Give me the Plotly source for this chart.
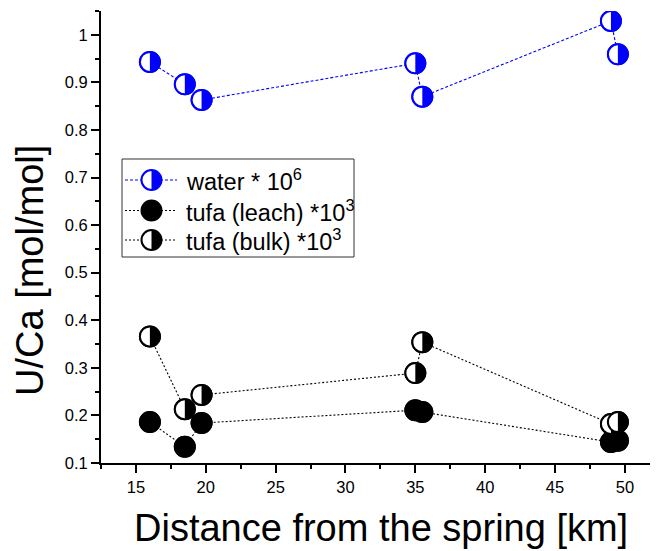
import plotly.graph_objects as go

# ---- data ----
water_x = [16.0, 18.5, 19.7, 35.0, 35.5, 49.0, 49.5]
water_y = [0.943, 0.896, 0.863, 0.940, 0.870, 1.029, 0.959]

leach_x = [16.0, 18.5, 19.7, 35.0, 35.5, 49.0, 49.5]
leach_y = [0.186, 0.134, 0.184, 0.211, 0.207, 0.144, 0.147]

bulk_x = [16.0, 18.5, 19.7, 35.0, 35.5, 49.0, 49.5]
bulk_y = [0.366, 0.213, 0.243, 0.289, 0.354, 0.182, 0.186]

series_names = ["water * 10<sup>6</sup>", "tufa (leach) *10<sup>3</sup>", "tufa (bulk) *10<sup>3</sup>"]
x_title = "Distance from the spring [km]"
y_title = "U/Ca [mol/mol]"

FONT = "Liberation Sans, Arial, sans-serif"
# the page body has an 8px margin; size the figure so it fills the window
OFF = 8
W, H = 658 - OFF, 551 - OFF
# plot-area edges in window pixels
PL, PR, PT, PB = 101, 658, 11, 463

def pxf(x):
    return (x - PL) / (PR - PL)

def pyf(y):
    return (PB - y) / (PB - PT)

R = 10
K = 5.523
half_right = f"M0,-{R} C{K},-{R} {R},-{K} {R},0 C{R},{K} {K},{R} 0,{R} Z"

series = [
    (series_names[1], leach_x, leach_y, "#000000", True, "2px,2px"),
    (series_names[2], bulk_x, bulk_y, "#000000", False, "2px,2px"),
    (series_names[0], water_x, water_y, "#0000FF", False, "3px,2px"),
]

fig = go.Figure()
shapes = []

for name, xs, ys, col, full, dash in series:
    fig.add_trace(go.Scatter(
        x=xs, y=ys, mode="lines+markers", name=name, showlegend=False,
        line=dict(color=col, width=1.1, dash=dash),
        marker=dict(symbol="circle", size=20, color=col if full else "white",
                    line=dict(color=col, width=2)),
    ))
    for x, y in zip(xs, ys):
        shapes.append(dict(type="circle", xref="x", yref="y", xsizemode="pixel", ysizemode="pixel",
                           xanchor=x, yanchor=y, x0=-R, x1=R, y0=-R, y1=R,
                           fillcolor=col if full else "white", line=dict(color=col, width=2)))
        if not full:
            shapes.append(dict(type="path", xref="x", yref="y", xsizemode="pixel", ysizemode="pixel",
                               xanchor=x, yanchor=y, path=half_right,
                               fillcolor=col, line=dict(width=0)))

# ---- manual legend ----
shapes.append(dict(type="rect", xref="paper", yref="paper",
                   x0=pxf(122), x1=pxf(354), y0=pyf(257), y1=pyf(159),
                   line=dict(color="#333333", width=1), fillcolor="rgba(0,0,0,0)"))
legend_rows = [
    (series_names[0], "#0000FF", False, "3px,2px", 180),
    (series_names[1], "#000000", True, "2px,2px", 210.5),
    (series_names[2], "#000000", False, "2px,2px", 240),
]
annotations = []
for name, col, full, dash, ry in legend_rows:
    shapes.append(dict(type="line", xref="paper", yref="paper",
                       x0=pxf(125), x1=pxf(177), y0=pyf(ry), y1=pyf(ry),
                       line=dict(color=col, width=1, dash=dash)))
    shapes.append(dict(type="circle", xref="paper", yref="paper", xsizemode="pixel", ysizemode="pixel",
                       xanchor=pxf(151.5), yanchor=pyf(ry), x0=-R, x1=R, y0=-R, y1=R,
                       fillcolor=col if full else "white", line=dict(color=col, width=2)))
    if not full:
        shapes.append(dict(type="path", xref="paper", yref="paper", xsizemode="pixel", ysizemode="pixel",
                           xanchor=pxf(151.5), yanchor=pyf(ry), path=half_right,
                           fillcolor=col, line=dict(width=0)))
    annotations.append(dict(text=name, xref="paper", yref="paper", x=pxf(184), y=pyf(ry),
                            xanchor="left", yanchor="middle", showarrow=False,
                            font=dict(family=FONT, size=23.5, color="black")))

# axis titles
annotations.append(dict(text=x_title, xref="paper", yref="paper", x=pxf(381), y=pyf(528),
                        xanchor="center", yanchor="middle", showarrow=False,
                        font=dict(family=FONT, size=38, color="black")))
annotations.append(dict(text=y_title, xref="paper", yref="paper", x=pxf(30), y=pyf(271),
                        xanchor="center", yanchor="middle", showarrow=False, textangle=-90,
                        font=dict(family=FONT, size=38, color="black")))

axis_common = dict(showline=True, linecolor="black", linewidth=2, mirror=False,
                   showgrid=False, zeroline=False, ticks="outside", ticklen=8, tickwidth=1.5,
                   tickcolor="black", tickfont=dict(family=FONT, size=16.5, color="black"))

fig.update_layout(
    width=W, height=H, autosize=False,
    margin=dict(l=PL - OFF, r=W - (PR - OFF), t=PT - OFF, b=H - (PB - OFF), pad=0),
    paper_bgcolor="white", plot_bgcolor="white",
    showlegend=False,
    shapes=shapes, annotations=annotations,
    xaxis=dict(range=[12.5, 52.37], tick0=0, dtick=5,
               minor=dict(ticks="outside", ticklen=4, tickwidth=1.5, tickcolor="black", dtick=2.5, tick0=0),
               **axis_common),
    yaxis=dict(range=[0.1, 1.05], tick0=0, dtick=0.1,
               minor=dict(ticks="outside", ticklen=4, tickwidth=1.5, tickcolor="black", dtick=0.05, tick0=0),
               **axis_common),
)

fig.write_html("out.html")
